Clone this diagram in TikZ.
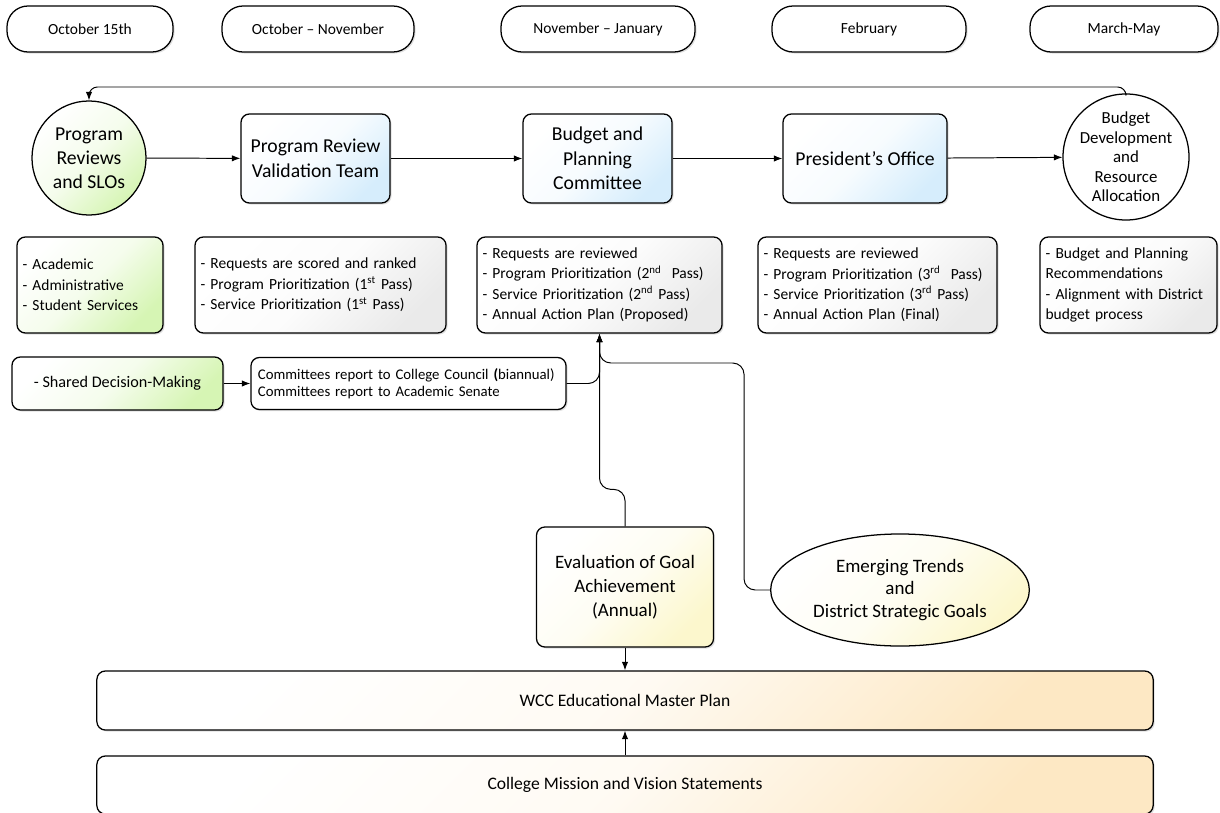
\documentclass[tikz,border=0pt]{standalone}
\usepackage{fontspec}
\setmainfont{Carlito}
\usetikzlibrary{shapes.geometric,shadows,arrows.meta}
\definecolor{lgreen}{RGB}{214,245,180}
\definecolor{lblue}{RGB}{214,237,252}
\definecolor{lgray}{RGB}{234,234,234}
\definecolor{lyellow}{RGB}{252,247,205}
\definecolor{lorange}{RGB}{253,232,196}

\begin{document}
\begin{tikzpicture}[x=0.025cm,y=-0.025cm,
  shad/.style={drop shadow={shadow xshift=1.1pt,shadow yshift=-1.1pt,opacity=0.25}},
  datebox/.style={draw,line width=0.9pt,rounded corners=15pt,minimum height=1.15cm,shad,
    fill=white,font=\fontsize{11}{13}\selectfont},
  mainbox/.style={draw,line width=0.9pt,rounded corners=6pt,minimum height=2.225cm,shad,
    align=center,font=\fontsize{14}{17.5}\selectfont},
  stagecirc/.style={draw,circle,line width=0.9pt,align=center,fill=white},
  notebox/.style={draw,line width=0.9pt,rounded corners=6pt,minimum height=2.4cm,shad,
    align=left,inner sep=4pt,font=\fontsize{11}{14.5}\selectfont},
  planbox/.style={draw,line width=0.9pt,rounded corners=6pt,minimum width=26.4cm,shad,
    font=\fontsize{12.5}{15}\selectfont},
  greenfill/.style={top color=white,bottom color=lgreen,middle color=lgreen!25,shading angle=45},
  bluefill/.style={top color=white,bottom color=lblue,middle color=lblue!20,shading angle=45},
  grayfill/.style={top color=white,bottom color=lgray,middle color=lgray!15,shading angle=45},
  yellowfill/.style={top color=white,bottom color=lyellow,middle color=lyellow!25,shading angle=45},
  orangefill/.style={top color=white,bottom color=lorange,middle color=lorange!20,shading angle=45},
  flow/.style={line width=0.7pt,-{Latex[length=6pt,width=4.5pt]}}]
\useasboundingbox (0,0) rectangle (1220,813);

\node[datebox,minimum width=4.15cm] (d1) at (90,29) {October 15th};
\node[datebox,minimum width=4.8cm] (d2) at (318,29) {October – November};
\node[datebox,minimum width=4.85cm] (d3) at (598,29) {November – January};
\node[datebox,minimum width=4.85cm] (d4) at (869,29) {February};
\node[datebox,minimum width=4.7cm] (d5) at (1124,29) {March-May};

\node[stagecirc,greenfill,minimum size=2.85cm,inner sep=0pt,font=\fontsize{14}{17}\selectfont] (prc) at (89,158) {Program\\Reviews\\and SLOs};
\node[mainbox,bluefill,minimum width=3.725cm] (prvt) at (315.5,158.5) {Program Review\\Validation Team};
\node[mainbox,bluefill,minimum width=3.725cm] (bpc) at (597.5,158.5) {Budget and\\Planning\\Committee};
\node[mainbox,bluefill,minimum width=4.1cm] (pres) at (865,158.5) {President’s Office};
\node[stagecirc,minimum size=3.15cm,inner sep=-5pt,font=\fontsize{12}{13.8}\selectfont] (bdra) at (1126,157) {Budget\\Development\\and\\Resource\\Allocation};

\draw[flow] (prc) -- (prvt);
\draw[flow] (prvt) -- (bpc);
\draw[flow] (bpc) -- (pres);
\draw[flow] (pres) -- (bdra);
\coordinate (loop) at (600,87);
\draw[flow,rounded corners=6pt] (bdra.north) |- (loop) -| (prc.north);

\node[notebox,greenfill,minimum width=3.65cm,text width=3.65cm-8pt] (acad) at (90,285) {- Academic\\- Administrative\\- Student Services};
\node[notebox,grayfill,minimum width=6.275cm,text width=6.275cm-8pt] (req1) at (320.5,285) {- Requests are scored and ranked\\- Program Prioritization (1\textsuperscript{st} Pass)\\- Service Prioritization (1\textsuperscript{st} Pass)};
\node[notebox,grayfill,minimum width=6.125cm,text width=6.125cm-8pt] (req2) at (599.5,285) {- Requests are reviewed\\- Program Prioritization (2\textsuperscript{nd}\ \ Pass)\\- Service Prioritization (2\textsuperscript{nd} Pass)\\- Annual Action Plan (Proposed)};
\node[notebox,grayfill,minimum width=5.975cm,text width=5.975cm-8pt] (req3) at (877.5,285) {- Requests are reviewed\\- Program Prioritization (3\textsuperscript{rd}\ \ Pass)\\- Service Prioritization (3\textsuperscript{rd} Pass)\\- Annual Action Plan (Final)};
\node[notebox,grayfill,minimum width=4.425cm,text width=4.425cm-8pt] (bud) at (1128.5,285) {- Budget and Planning\\Recommendations\\- Alignment with District\\budget process};

\node[notebox,greenfill,minimum width=5.275cm,minimum height=1.325cm,align=center,font=\fontsize{11.5}{14}\selectfont] (sdm) at (117.5,383.5) {- Shared Decision-Making};
\node[notebox,fill=white,minimum width=7.875cm,text width=7.875cm-10pt,minimum height=1.3cm,inner sep=5pt,font=\fontsize{10.5}{12.2}\selectfont] (ctee) at (408.5,383.5) {Committees report to College Council \textbf{(}biannual)\\Committees report to Academic Senate};
\draw[flow] (sdm) -- (ctee);

\node[mainbox,yellowfill,minimum width=4.425cm,minimum height=3cm,font=\fontsize{13.5}{17}\selectfont] (eval) at (625,587) {Evaluation of Goal\\Achievement\\(Annual)};
\node[draw,ellipse,line width=0.9pt,yellowfill,minimum width=6.25cm,minimum height=2.8cm,align=center,font=\fontsize{13.5}{16.3}\selectfont] (emer) at (900,590) {Emerging Trends\\and\\District Strategic Goals};

\draw[flow,rounded corners=8pt] (ctee.east) -| (req2.south);
\draw[flow,rounded corners=8pt] (eval.north) -- ++(0,-37) -| (req2.south);
\coordinate (hook) at (744,363);
\draw[flow,rounded corners=8pt] (emer.west) -| (hook) -| (req2.south);

\node[planbox,orangefill,minimum height=1.475cm] (wcc) at (625,700.5) {WCC Educational Master Plan};
\node[planbox,orangefill,minimum height=1.45cm] (mission) at (625,785) {College Mission and Vision Statements};
\draw[flow] (eval) -- (wcc);
\draw[flow] (mission) -- (wcc);
\end{tikzpicture}
\end{document}
